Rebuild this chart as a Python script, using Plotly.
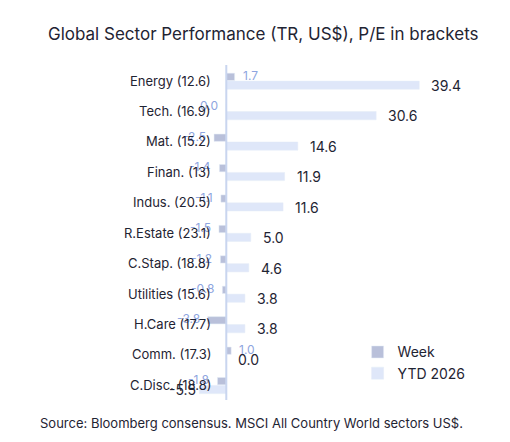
import plotly.graph_objects as go

categories = ["Energy (12.6)", "Tech. (16.9)", "Mat. (15.2)", "Finan. (13)", "Indus. (20.5)",
              "R.Estate (23.1)", "C.Stap. (18.8)", "Utilities (15.6)", "H.Care (17.7)",
              "Comm. (17.3)", "C.Disc. (18.8)"]
week = [1.7, 0.0, -2.5, -1.4, -1.1, -1.5, -1.2, -0.8, -3.8, 1.0, -1.8]
ytd = [39.4, 30.6, 14.6, 11.9, 11.6, 5.0, 4.6, 3.8, 3.8, 0.0, -5.5]

FONT = "Inter, Lato, sans-serif"
fig = go.Figure()
fig.add_trace(go.Bar(y=categories, x=week, orientation="h", name="Week",
                     marker_color="#b9c0da", width=0.24, offset=-0.24))
fig.add_trace(go.Bar(y=categories, x=ytd, orientation="h", name="YTD 2026",
                     marker_color="#dfe7f9", width=0.27, offset=0.02))
fig.add_shape(type="line", xref="x", yref="paper", x0=0, x1=0, y0=0, y1=1,
              line=dict(color="#c9d5ef", width=2))

ann = []
for c, w, v in zip(categories, week, ytd):
    ann.append(dict(x=w, y=c, xref="x", yref="y", text=f"{w:.1f}", showarrow=False,
                    xanchor="left" if w > 0 else "right", xshift=6 if w > 0 else -6,
                    yshift=5, font=dict(color="#8ea5e0", size=12, family=FONT)))
    ann.append(dict(x=v, y=c, xref="x", yref="y", text=f"{v:.1f}", showarrow=False,
                    xanchor="left" if v >= 0 else "right", xshift=10 if v >= 0 else -1,
                    yshift=-5, font=dict(color="#1f2433", size=14, family=FONT)))
    ann.append(dict(x=0.0875, y=c, xref="paper", yref="y", text=c, showarrow=False,
                    xanchor="right", font=dict(color="#1f2433", size=13, family=FONT)))
ann.append(dict(text="Source: Bloomberg consensus. MSCI All Country World sectors US$.",
                xref="paper", yref="paper", x=-0.642, y=-0.07, xanchor="left",
                yanchor="middle", showarrow=False, font=dict(size=13, family=FONT)))

fig.update_layout(
    width=510, height=442, plot_bgcolor="white", paper_bgcolor="white",
    margin=dict(l=184, r=86, t=57, b=50),
    font=dict(family=FONT, color="#1f2433", size=13),
    title=dict(text="Global Sector Performance (TR, US$), P/E in brackets",
               x=40/510, xanchor="left", y=0.94, yanchor="middle", font=dict(size=17)),
    xaxis=dict(range=[-7, 42], visible=False),
    yaxis=dict(autorange="reversed", showticklabels=False, showline=False, ticks=""),
    showlegend=True,
    legend=dict(x=0.69, y=0.19, xanchor="left", yanchor="top", font=dict(size=14),
                bgcolor="rgba(0,0,0,0)"),
    annotations=ann,
)
fig.write_html("out.html")
